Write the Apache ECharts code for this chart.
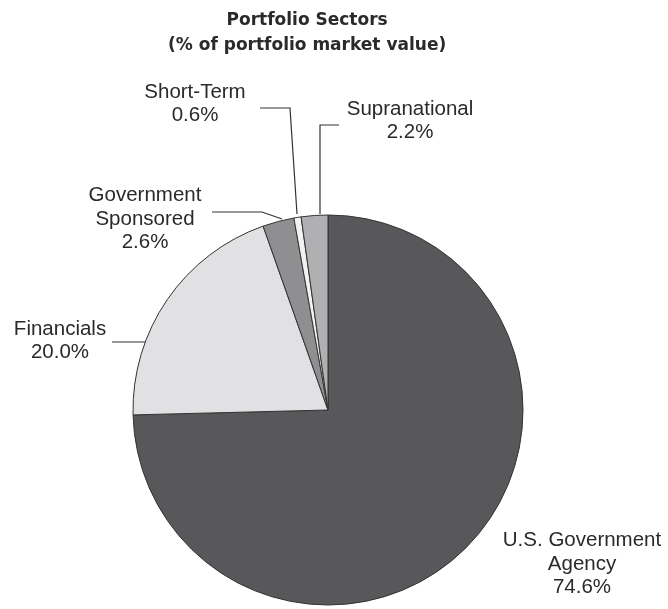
<!DOCTYPE html>
<html><head><meta charset="utf-8">
<script src="https://cdn.jsdelivr.net/npm/echarts@6/dist/echarts.min.js"></script>
<style>html,body{margin:0;padding:0;background:#fff}#c{width:668px;height:609px}</style>
</head><body><div id="c"></div>
<script>
var titleLines = ['Portfolio Sectors', '(% of portfolio market value)'];
var categories = ['U.S. Government\nAgency', 'Financials', 'Government\nSponsored', 'Short-Term', 'Supranational'];
var values = [74.6, 20.0, 2.6, 0.6, 2.2];
var colors = ['#58585a', '#e1e1e3', '#8f8f91', '#f2f2f2', '#b0b0b2'];

// label anchor positions and leader lines (layout only)
var labelPos = [
  {x: 582, y: 564, line: null},
  {x: 60, y: 341, line: [[145, 342], [112, 342], [112, 342]]},
  {x: 145, y: 219, line: [[282, 219], [262, 212], [212, 212]]},
  {x: 195, y: 104, line: [[297, 214], [290, 108], [260, 108]]},
  {x: 410, y: 121, line: [[320, 214], [320, 125], [339, 125]]}
];

var chart = echarts.init(document.getElementById('c'));
chart.setOption({
  animation: false,
  graphic: [{
    type: 'text', left: 308 - 140, top: 8,
    style: {
      text: titleLines.join('\n'), textAlign: 'center',
      font: 'bold 17px "DejaVu Sans"', fill: '#2a2a2a', lineHeight: 25
    }
  }],
  series: [{
    type: 'pie',
    center: [328, 410],
    radius: 195,
    startAngle: 90,
    clockwise: true,
    data: values.map(function (v, i) {
      return {name: categories[i], value: v, itemStyle: {color: colors[i]}};
    }),
    itemStyle: {borderColor: '#333', borderWidth: 1},
    label: {
      show: true,
      overflow: 'none',
      alignTo: 'none',
      formatter: function (p) { return p.name + '\n' + p.value.toFixed(1) + '%'; },
      fontFamily: 'Liberation Sans', fontSize: 20.5, color: '#2a2a2a', lineHeight: 23.5, align: 'center'
    },
    labelLine: {show: true, lineStyle: {color: '#333', width: 1.2}},
    labelLayout: function (params) {
      var p = labelPos[params.dataIndex];
      var r = {x: p.x, y: p.y, align: 'center', verticalAlign: 'middle'};
      r.labelLinePoints = p.line ? p.line : [[0, 0], [0, 0], [0, 0]];
      return r;
    }
  }]
});
</script></body></html>
